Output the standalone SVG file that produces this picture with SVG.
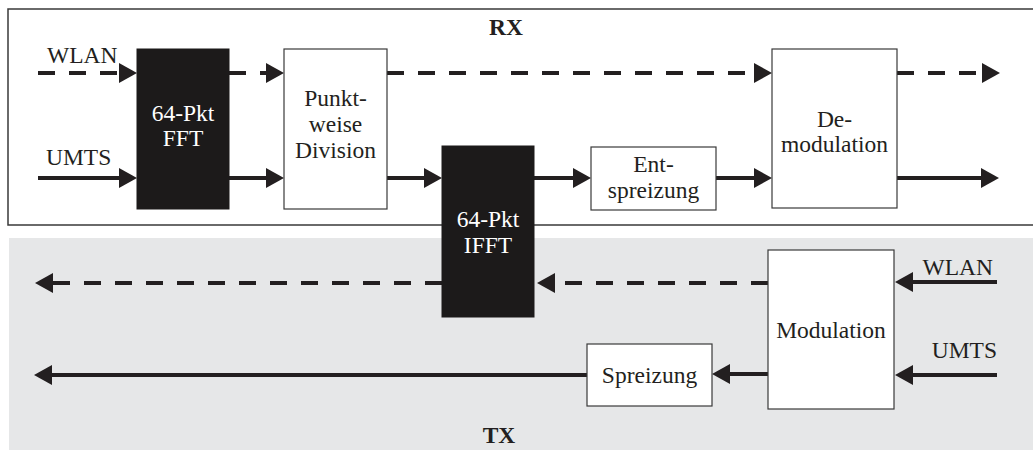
<svg xmlns="http://www.w3.org/2000/svg" width="1033" height="450" viewBox="0 0 1033 450">
<style>
text{font-family:"Liberation Serif","Times New Roman",serif;font-size:23.5px;fill:#231f20}
.c{text-anchor:middle}
.b{font-weight:bold}
.w{fill:#ffffff}
.box{fill:#ffffff;stroke:#3a3a3a;stroke-width:1.2}
.blk{fill:#1c1a1a;stroke:#1c1a1a;stroke-width:1}
.ln{stroke:#231f20;stroke-width:4;fill:none}
.d{stroke-dasharray:17 14}
</style>
<defs>
<marker id="ah" viewBox="0 0 18 20" markerWidth="18" markerHeight="20" refX="2" refY="10" orient="auto" markerUnits="userSpaceOnUse">
<path d="M0,0 L18,10 L0,20 Z" fill="#231f20"/>
</marker>
</defs>
<rect x="0" y="0" width="1033" height="450" fill="#ffffff"/>
<g id="rx-frame">
<path d="M1033,9 H8 V225 H1033" fill="none" stroke="#3a3a3a" stroke-width="1.5"/>
<text class="c b" x="506" y="35">RX</text>
</g>
<g id="tx-frame">
<rect x="9" y="238" width="1024" height="212" fill="#e6e7e8"/>
<text class="c b" x="499" y="443">TX</text>
</g>
<g id="labels">
<text x="47" y="63">WLAN</text>
<text x="46" y="165">UMTS</text>
<text x="993" y="275" text-anchor="end">WLAN</text>
<text x="997" y="358" text-anchor="end">UMTS</text>
</g>
<g id="connectors">
<line class="ln d" x1="38" y1="73" x2="121" y2="73" marker-end="url(#ah)"/>
<line class="ln" x1="38" y1="178" x2="121" y2="178" marker-end="url(#ah)"/>
<line class="ln d" x1="229" y1="73" x2="268" y2="73" marker-end="url(#ah)"/>
<line class="ln" x1="229" y1="178" x2="268" y2="178" marker-end="url(#ah)"/>
<line class="ln d" x1="387" y1="73" x2="756" y2="73" marker-end="url(#ah)"/>
<line class="ln" x1="387" y1="178" x2="426" y2="178" marker-end="url(#ah)"/>
<line class="ln" x1="534" y1="178" x2="575" y2="178" marker-end="url(#ah)"/>
<line class="ln" x1="716" y1="178" x2="756" y2="178" marker-end="url(#ah)"/>
<line class="ln d" x1="897" y1="73" x2="984" y2="73" marker-end="url(#ah)"/>
<line class="ln" x1="897" y1="178" x2="983" y2="178" marker-end="url(#ah)"/>
<line class="ln" x1="997" y1="282" x2="911" y2="282" marker-end="url(#ah)"/>
<line class="ln" x1="997" y1="375" x2="911" y2="375" marker-end="url(#ah)"/>
<line class="ln d" x1="768" y1="283" x2="553" y2="283" marker-end="url(#ah)"/>
<line class="ln" x1="768" y1="374" x2="728" y2="374" marker-end="url(#ah)"/>
<line class="ln" x1="587" y1="375" x2="50" y2="375" marker-end="url(#ah)"/>
<line class="ln d" x1="442" y1="283" x2="51" y2="283" marker-end="url(#ah)"/>
</g>
<g id="fft">
<rect class="blk" x="137" y="49" width="92" height="160"/>
<text class="c w" x="183" y="121">64-Pkt</text>
<text class="c w" x="183" y="146">FFT</text>
</g>
<g id="division">
<rect class="box" x="284" y="49" width="103" height="160"/>
<text class="c" x="335.5" y="106">Punkt-</text>
<text class="c" x="335.5" y="132">weise</text>
<text class="c" x="335.5" y="158">Division</text>
</g>
<g id="ifft">
<rect class="blk" x="442" y="146" width="92" height="171"/>
<text class="c w" x="488" y="227">64-Pkt</text>
<text class="c w" x="488" y="253">IFFT</text>
</g>
<g id="entspreizung">
<rect class="box" x="591" y="147" width="125" height="63"/>
<text class="c" x="653.5" y="172">Ent-</text>
<text class="c" x="653.5" y="198">spreizung</text>
</g>
<g id="demodulation">
<rect class="box" x="772" y="49" width="125" height="159"/>
<text class="c" x="834.5" y="127">De-</text>
<text class="c" x="834.5" y="152">modulation</text>
</g>
<g id="modulation">
<rect class="box" x="768" y="250" width="126" height="159"/>
<text class="c" x="831" y="338">Modulation</text>
</g>
<g id="spreizung">
<rect class="box" x="587" y="344" width="125" height="62"/>
<text class="c" x="649.5" y="383">Spreizung</text>
</g>
</svg>
